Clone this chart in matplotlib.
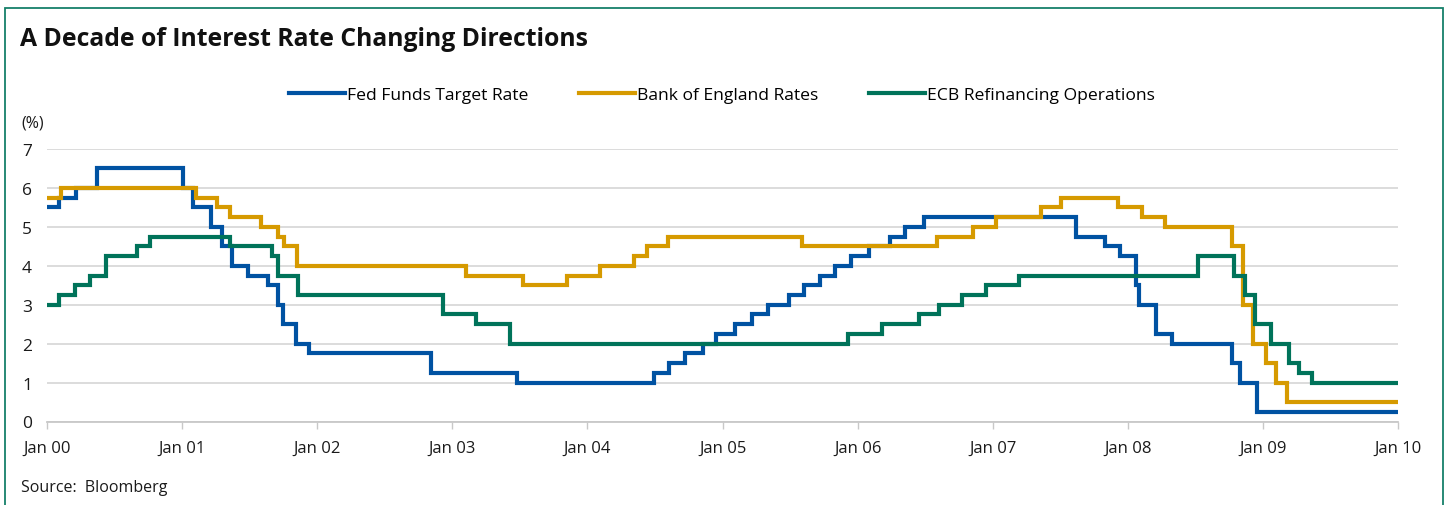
import matplotlib
matplotlib.use("Agg")
import matplotlib.pyplot as plt
import matplotlib.dates as mdates
import pandas as pd
from matplotlib.patches import Rectangle

plt.rcParams['font.family'] = ['Open Sans', 'DejaVu Sans']

# step dates and rates (%)
fed_dates = ['2000-01-01', '2000-02-02', '2000-03-21', '2000-05-16', '2001-01-03', '2001-01-31',
             '2001-03-20', '2001-04-18', '2001-05-15', '2001-06-27', '2001-08-21', '2001-09-17',
             '2001-10-02', '2001-11-06', '2001-12-11', '2002-11-06', '2003-06-25', '2004-06-30',
             '2004-08-10', '2004-09-21', '2004-11-10', '2004-12-14', '2005-02-02', '2005-03-22',
             '2005-05-03', '2005-06-30', '2005-08-09', '2005-09-20', '2005-11-01', '2005-12-13',
             '2006-01-31', '2006-03-28', '2006-05-10', '2006-06-29', '2007-08-14', '2007-10-31',
             '2007-12-11', '2008-01-22', '2008-01-30', '2008-03-18', '2008-04-30', '2008-10-08',
             '2008-10-29', '2008-12-16', '2010-01-01']
fed_rates = [5.50, 5.75, 6.00, 6.50, 6.00, 5.50,
             5.00, 4.50, 4.00, 3.75, 3.50, 3.00,
             2.50, 2.00, 1.75, 1.25, 1.00, 1.25,
             1.50, 1.75, 2.00, 2.25, 2.50, 2.75,
             3.00, 3.25, 3.50, 3.75, 4.00, 4.25,
             4.50, 4.75, 5.00, 5.25, 4.75, 4.50,
             4.25, 3.50, 3.00, 2.25, 2.00, 1.50,
             1.00, 0.25, 0.25]

boe_dates = ['2000-01-01', '2000-02-10', '2001-02-08', '2001-04-05', '2001-05-10', '2001-08-02',
             '2001-09-18', '2001-10-04', '2001-11-08', '2003-02-06', '2003-07-10', '2003-11-06',
             '2004-02-05', '2004-05-06', '2004-06-10', '2004-08-05', '2005-08-04', '2006-08-03',
             '2006-11-09', '2007-01-11', '2007-05-10', '2007-07-05', '2007-12-06', '2008-02-07',
             '2008-04-10', '2008-10-08', '2008-11-06', '2008-12-04', '2009-01-08', '2009-02-05',
             '2009-03-05', '2010-01-01']
boe_rates = [5.75, 6.00, 5.75, 5.50, 5.25, 5.00,
             4.75, 4.50, 4.00, 3.75, 3.50, 3.75,
             4.00, 4.25, 4.50, 4.75, 4.50, 4.75,
             5.00, 5.25, 5.50, 5.75, 5.50, 5.25,
             5.00, 4.50, 3.00, 2.00, 1.50, 1.00,
             0.50, 0.50]

ecb_dates = ['2000-01-01', '2000-02-04', '2000-03-17', '2000-04-28', '2000-06-09', '2000-09-01',
             '2000-10-06', '2001-05-11', '2001-08-31', '2001-09-18', '2001-11-09', '2002-12-06',
             '2003-03-07', '2003-06-06', '2005-12-06', '2006-03-08', '2006-06-15', '2006-08-09',
             '2006-10-11', '2006-12-13', '2007-03-14', '2008-07-09', '2008-10-15', '2008-11-12',
             '2008-12-10', '2009-01-21', '2009-03-11', '2009-04-08', '2009-05-13', '2010-01-01']
ecb_rates = [3.00, 3.25, 3.50, 3.75, 4.25, 4.50,
             4.75, 4.50, 4.25, 3.75, 3.25, 2.75,
             2.50, 2.00, 2.25, 2.50, 2.75, 3.00,
             3.25, 3.50, 3.75, 4.25, 3.75, 3.25,
             2.50, 2.00, 1.50, 1.25, 1.00, 1.00]

labels = ['Fed Funds Target Rate', 'Bank of England Rates', 'ECB Refinancing Operations']
colors = ['#0052A2', '#D69A00', '#00735A']

W, H = 1447, 506
fig = plt.figure(figsize=(W / 100, H / 100), dpi=100)
ax = fig.add_axes([46.7 / W, 1 - 422.5 / H, (1398.3 - 46.7) / W, (422.5 - 150) / H])

series = [(fed_dates, fed_rates), (boe_dates, boe_rates), (ecb_dates, ecb_rates)]
for (d, v), lab, c in zip(series, labels, colors):
    ax.step(pd.to_datetime(d), v, where='post', color=c, lw=3.0, label=lab,
            solid_joinstyle='miter', zorder=3)

ax.set_xlim(pd.Timestamp('2000-01-01'), pd.Timestamp('2010-01-01'))
ax.set_ylim(0, 7)
ax.set_yticks(range(8))
ax.xaxis.set_major_locator(mdates.YearLocator())
ax.xaxis.set_major_formatter(mdates.DateFormatter('%b %y'))

ax.grid(axis='y', color='#d9d9d9', lw=1.3)
ax.set_axisbelow(True)
for s in ['top', 'right', 'left']:
    ax.spines[s].set_visible(False)
ax.spines['bottom'].set_color('#c8c8c8')
ax.spines['bottom'].set_linewidth(1.3)
ax.tick_params(axis='x', length=5, color='#c8c8c8', width=1, pad=8.5, labelsize=12, labelcolor='#1a1a1a')
ax.tick_params(axis='y', length=0, pad=10.5, labelsize=12.5, labelcolor='#1a1a1a')

fig.text(20 / W, 1 - 40 / H, 'A Decade of Interest Rate Changing Directions', fontsize=17.8,
         fontweight='bold', va='center', ha='left', color='#111111')
fig.text(21 / W, 1 - 123 / H, '(%)', fontsize=11.5, va='center', ha='left', color='#1a1a1a')
fig.text(21 / W, 1 - 488 / H, 'Source:  Bloomberg', fontsize=11.5, va='center', ha='left', color='#1a1a1a')

fig.legend(loc='center', bbox_to_anchor=(722 / W, 1 - 95.5 / H), ncol=3, frameon=False,
           fontsize=12.6, handlelength=3.2, handletextpad=0.12, columnspacing=2.9,
           borderaxespad=0, borderpad=0)

fig.patches.append(Rectangle((5 / W, -0.05), 1438 / W, 1.05 - 8.5 / H, transform=fig.transFigure,
                             fill=False, edgecolor='#16806A', lw=1.3))

fig.savefig('out.png', dpi=100)
